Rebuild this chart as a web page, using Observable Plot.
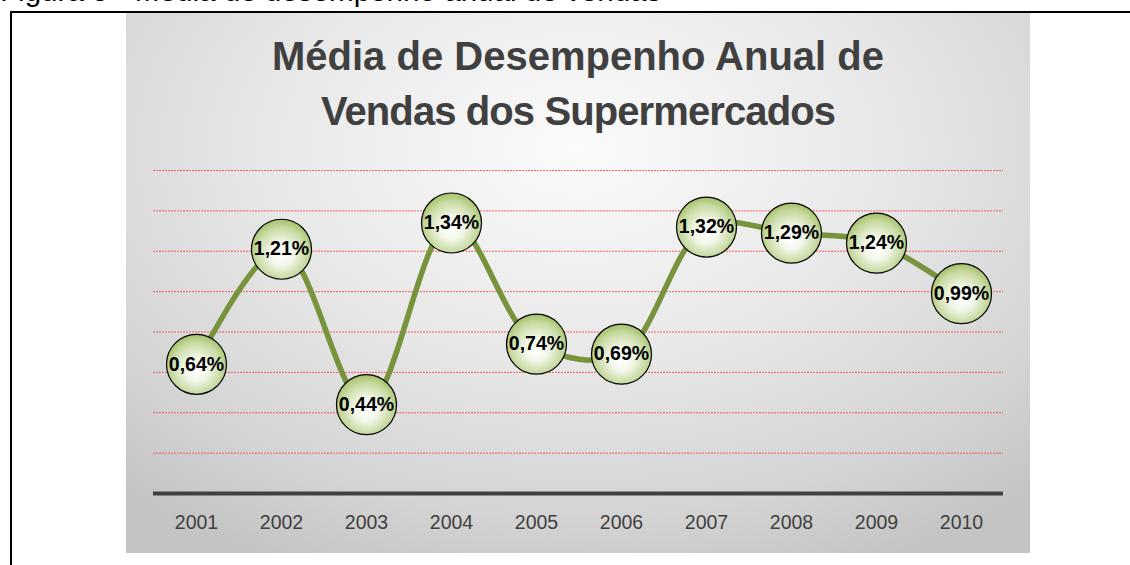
<!DOCTYPE html>
<html>
<head>
<meta charset="utf-8">
<script src="https://cdn.jsdelivr.net/npm/d3@7"></script>
<script src="https://cdn.jsdelivr.net/npm/@observablehq/plot@0.6"></script>
<style>
  html, body { margin: 0; padding: 0; background: #fff; width: 1130px; height: 565px; overflow: hidden; position: relative; }
  #caption { position: absolute; left: 0; top: -24px; font: 29.6px/30px "Liberation Sans", Arial, sans-serif; color: #000; white-space: nowrap; }
  #frameTop { position: absolute; left: 10px; top: 11px; width: 1120px; height: 0; border-top: 2px solid #000; }
  #frameLeft { position: absolute; left: 10px; top: 11px; width: 0; height: 560px; border-left: 2px solid #000; }
  #box { position: absolute; left: 126px; top: 13px; width: 904px; height: 540px;
         background: radial-gradient(ellipse 75% 85% at 50% 25%, #fbfbfb 0%, #e8e8e8 45%, #d4d4d4 80%, #c4c4c4 100%); }
  #title { height: 129px; box-sizing: border-box; padding-top: 16px; text-align: center;
           font-family: "Liberation Sans", Arial, sans-serif;
           font-weight: bold; font-size: 40px; line-height: 55px; color: #404040; }
  #title .l2 { letter-spacing: -0.9px; }
  #plot svg { display: block; }
</style>
</head>
<body>
<div id="caption">Figura 5 - Média de desempenho anual de vendas</div>
<div id="frameTop"></div>
<div id="frameLeft"></div>
<div id="box">
  <div id="title">Média de Desempenho Anual de<br><span class="l2">Vendas dos Supermercados</span></div>
  <div id="plot"></div>
</div>
<script>
const years = ["2001","2002","2003","2004","2005","2006","2007","2008","2009","2010"];
const values = [0.64, 1.21, 0.44, 1.34, 0.74, 0.69, 1.32, 1.29, 1.24, 0.99];
const labels = ["0,64%","1,21%","0,44%","1,34%","0,74%","0,69%","1,32%","1,29%","1,24%","0,99%"];
const gridValues = [0.2, 0.4, 0.6, 0.8, 1.0, 1.2, 1.4, 1.6];

const data = years.map((y, i) => ({year: y, value: values[i], label: labels[i]}));

const chart = Plot.plot({
  width: 904,
  height: 411,
  marginLeft: 27,
  marginRight: 27,
  marginTop: 28,
  marginBottom: 60,
  style: {background: "transparent", fontFamily: "'Liberation Sans', Arial, sans-serif", fontSize: "19.5px", color: "#404040"},
  x: {type: "point", domain: years, padding: 0.5, label: null},
  y: {domain: [0, 1.6], axis: null},
  marks: [
    Plot.ruleY(gridValues, {stroke: "#ff3a3a", strokeWidth: 1, strokeDasharray: "2,1", strokeOpacity: 0.8}),
    Plot.ruleY([0], {stroke: "#404040", strokeWidth: 4}),
    Plot.axisX({tickSize: 0, tickPadding: 22, label: null, fontSize: 19.5}),
    Plot.line(data, {x: "year", y: "value", curve: "catmull-rom", stroke: "#77933c", strokeWidth: 5.5, strokeLinecap: "butt"}),
    Plot.dot(data, {x: "year", y: "value", r: 30, fill: "#d7e4bd", stroke: "#000", strokeWidth: 1.2}),
    Plot.text(data, {x: "year", y: "value", text: "label", fill: "#000", fontSize: 19.5, fontWeight: "bold", fontFamily: "'Liberation Sans', Arial, sans-serif"})
  ]
});
document.getElementById("plot").appendChild(chart);

// radial gradient for the markers
const svg = d3.select(chart);
const defs = svg.insert("defs", ":first-child");
const g = defs.append("radialGradient").attr("id", "markerGrad")
  .attr("cx", "50%").attr("cy", "55%").attr("r", "55%").attr("fx", "50%").attr("fy", "60%");
g.append("stop").attr("offset", "0%").attr("stop-color", "#ffffff");
g.append("stop").attr("offset", "35%").attr("stop-color", "#f3f7ea");
g.append("stop").attr("offset", "78%").attr("stop-color", "#c6d99f");
g.append("stop").attr("offset", "100%").attr("stop-color", "#a3bf66");
svg.selectAll("circle").attr("fill", "url(#markerGrad)");
</script>
</body>
</html>
